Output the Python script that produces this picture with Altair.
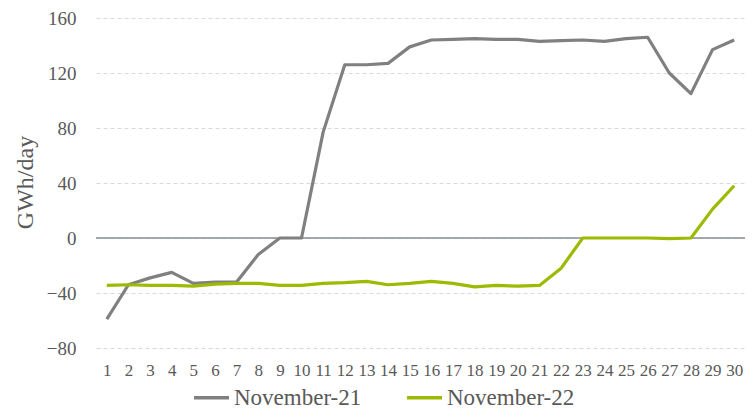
import altair as alt
import pandas as pd

days = list(range(1, 31))
nov21 = [-59, -34, -29, -25, -33, -32, -32, -12, 0, 0,
         77, 126, 126, 127, 139, 144, 144.5, 145, 144.5, 144.5,
         143, 143.5, 144, 143, 145, 146, 120, 105, 137, 144]
nov22 = [-34.5, -34, -34.5, -34.5, -35, -33.5, -33, -33, -34.5, -34.5,
         -33, -32.5, -31.5, -34, -33, -31.5, -33, -35.5, -34.5, -35,
         -34.5, -22, 0, 0, 0, 0, -0.5, 0, 21, 38]
series_names = ["November-21", "November-22"]
series_colors = ["#808080", "#9BBB00"]
y_ticks = [-80, -40, 0, 40, 80, 120, 160]

df = pd.DataFrame({
    "day": days * 2,
    "value": nov21 + nov22,
    "series": [series_names[0]] * 30 + [series_names[1]] * 30,
})

FONT = "Liberation Serif"
TXT = "#595959"

lines = alt.Chart(df).mark_line(strokeWidth=3.2, strokeJoin="round").encode(
    x=alt.X("day:Q", scale=alt.Scale(domain=[0.5, 30.5], nice=False, zero=False),
            axis=alt.Axis(values=days, title=None, grid=False, domain=False, ticks=False,
                          labelFont=FONT, labelFontSize=17, labelColor=TXT,
                          labelPadding=14, labelFlush=False)),
    y=alt.Y("value:Q", scale=alt.Scale(domain=[-80, 160], nice=False),
            axis=alt.Axis(values=y_ticks, title="GWh/day", grid=True, gridColor="#D9D9D9",
                          gridDash=[4, 3], gridWidth=1, domain=False, ticks=False,
                          labelFont=FONT, labelFontSize=19, labelColor=TXT, labelPadding=20,
                          titleFont=FONT, titleFontSize=24, titleFontWeight="normal",
                          titleColor=TXT, titleAngle=-90, titleX=-71, titleY=164,
                          titleAlign="center", titleBaseline="middle")),
    color=alt.Color("series:N", scale=alt.Scale(domain=series_names, range=series_colors),
                    legend=alt.Legend(title=None, orient="none", direction="horizontal",
                                      legendX=96, legendY=360, symbolType="stroke",
                                      symbolSize=1225, symbolStrokeWidth=3.5,
                                      labelFont=FONT, labelFontSize=23, labelColor=TXT,
                                      labelOffset=3, columnPadding=38)),
)

zero = alt.Chart(pd.DataFrame({"y": [0]})).mark_rule(color="#868C96", strokeWidth=1.5).encode(
    y=alt.Y("y:Q", scale=alt.Scale(domain=[-80, 160], nice=False))
)

chart = alt.layer(zero, lines).properties(
    width=649, height=330,
    autosize=alt.AutoSizeParams(type="none"),
    padding={"left": 88, "top": 10, "right": 0, "bottom": 62},
).configure_view(stroke=None)

chart.save("out.html", embed_options={"renderer": "svg", "actions": False})
